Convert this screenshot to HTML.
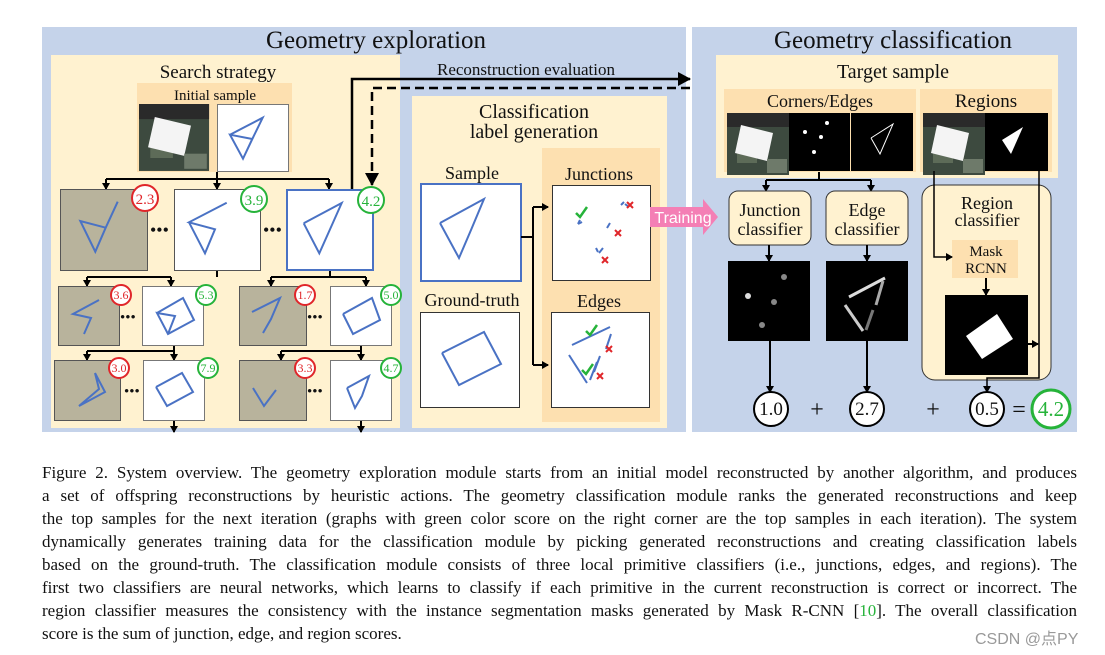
<!DOCTYPE html>
<html><head><meta charset="utf-8"><style>
html,body{margin:0;padding:0;background:#fff;width:1105px;height:655px;overflow:hidden}
svg{position:absolute;left:0;top:0}
svg text{font-family:"Liberation Serif",serif;fill:#111}
.cap{position:absolute;left:42px;width:1035px;font-family:"Liberation Serif",serif;font-size:17px;color:#111;white-space:nowrap;text-align:justify;text-align-last:justify}
.cap.l{text-align-last:left}
.wm{position:absolute;left:975px;top:625px;font-family:"Liberation Sans","Noto Sans CJK SC",sans-serif;font-size:16px;color:#999}
</style></head><body>
<svg width="1105" height="655" viewBox="0 0 1105 655">
<defs>
<marker id="ah" markerWidth="8" markerHeight="8" refX="6" refY="4" orient="auto" markerUnits="userSpaceOnUse"><path d="M0,0 L7,4 L0,8z" fill="#000"/></marker>
<marker id="ahb" markerWidth="14" markerHeight="14" refX="12" refY="7" orient="auto" markerUnits="userSpaceOnUse"><path d="M0,0 L13,7 L0,14z" fill="#000"/></marker>
<g id="sat"><rect width="62" height="62" fill="#3d4a3f"/><rect x="0" y="0" width="62" height="14" fill="#2a2a2a"/><rect x="10" y="30" width="20" height="20" fill="#5d6b58"/><polygon points="14,12 46,20 40,48 8,40" fill="#f4f4f4"/><rect x="40" y="46" width="20" height="14" fill="#6e7a6a"/></g>
</defs>
<rect x="42" y="27" width="644" height="405" fill="#c5d3ea"/>
<rect x="692" y="27" width="385" height="405" fill="#c5d3ea"/>
<rect x="51" y="55" width="349" height="373" fill="#fff2d0"/>
<rect x="412" y="96" width="255" height="332" fill="#fff2d0"/>
<rect x="542" y="148" width="118" height="274" fill="#fde0b0"/>
<rect x="716" y="55" width="342" height="123" fill="#fff2d0"/>
<rect x="724" y="89" width="192" height="83" fill="#fde0b0"/>
<rect x="920" y="89" width="132" height="83" fill="#fde0b0"/>
<rect x="137" y="83" width="155" height="89" fill="#fde0b0"/>

<text x="376" y="48" font-size="25" text-anchor="middle">Geometry exploration</text>
<text x="893" y="48" font-size="25" text-anchor="middle">Geometry classification</text>
<text x="218" y="78" font-size="19" text-anchor="middle">Search strategy</text>
<text x="215" y="100" font-size="15" text-anchor="middle">Initial sample</text>
<text x="526" y="75" font-size="17" text-anchor="middle">Reconstruction evaluation</text>
<text x="534" y="118" font-size="20" text-anchor="middle">Classification</text>
<text x="534" y="138" font-size="20" text-anchor="middle">label generation</text>
<text x="472" y="179" font-size="18" text-anchor="middle">Sample</text>
<text x="472" y="306" font-size="18" text-anchor="middle">Ground-truth</text>
<text x="599" y="180" font-size="18" text-anchor="middle">Junctions</text>
<text x="599" y="307" font-size="18" text-anchor="middle">Edges</text>
<text x="893" y="78" font-size="20" text-anchor="middle">Target sample</text>
<text x="820" y="107" font-size="18" text-anchor="middle">Corners/Edges</text>
<text x="986" y="107" font-size="19" text-anchor="middle">Regions</text>

<use href="#sat" transform="translate(139,104) scale(1.13,1.08)"/>
<rect x="217.5" y="104.5" width="71" height="67" fill="#fff" stroke="#777"/>
<g fill="none" stroke="#4a72c4" stroke-width="2"><polyline points="230,134.7 262.7,117.7 252.3,139 243,158.7 230,134.7 252.3,139"/></g>
<g stroke="#000" stroke-width="2" fill="none">
<path d="M217,172 V179 M106,179 H329"/>
<path d="M106,179 V189" marker-end="url(#ah)"/><path d="M217,179 V189" marker-end="url(#ah)"/><path d="M329,179 V189" marker-end="url(#ah)"/>
<path d="M217,270 V277 M87,277 H171"/><path d="M87,277 V286" marker-end="url(#ah)"/><path d="M171,277 V286" marker-end="url(#ah)"/>
<path d="M330,270 V277 M271,277 H366"/><path d="M271,277 V286" marker-end="url(#ah)"/><path d="M366,277 V286" marker-end="url(#ah)"/>
<path d="M174,345 V351 M87,351 H174"/><path d="M87,351 V360" marker-end="url(#ah)"/><path d="M174,351 V360" marker-end="url(#ah)"/>
<path d="M361,345 V351 M281,351 H361"/><path d="M281,351 V360" marker-end="url(#ah)"/><path d="M361,351 V360" marker-end="url(#ah)"/>
<path d="M174,420 V432" marker-end="url(#ah)"/><path d="M361,420 V432" marker-end="url(#ah)"/>
<path d="M352,189 V79 H690" stroke-width="2.5" marker-end="url(#ahb)"/>
<path d="M690,88 H372 V185" stroke-width="2.5" stroke-dasharray="9,5" marker-end="url(#ahb)"/>
</g>
<rect x="60.5" y="189.5" width="87" height="81" fill="#b8b39c" stroke="#555"/>
<rect x="174.5" y="189.5" width="86" height="81" fill="#fff" stroke="#555"/>
<rect x="287" y="190" width="86" height="80" fill="#fff" stroke="#4a72c4" stroke-width="2"/>
<g fill="none" stroke="#4a72c4" stroke-width="2">
<polyline points="117.7,201.7 105.7,227.7 95.3,251.7 80.3,221 105.7,227.7"/>
<polyline points="226.7,202.7 189,222.3 215,229.3 205,253.3 189,222.3"/>
<polyline points="303.7,223.3 341.7,203 329.7,230 319.3,253.3 303.7,223.3"/>
</g>
<rect x="58.5" y="286.5" width="61" height="59" fill="#b8b39c" stroke="#555"/>
<rect x="142.5" y="286.5" width="61" height="59" fill="#fff" stroke="#777"/>
<rect x="239.5" y="286.5" width="67" height="59" fill="#b8b39c" stroke="#555"/>
<rect x="330.5" y="286.5" width="61" height="59" fill="#fff" stroke="#777"/>
<rect x="54.5" y="360.5" width="66" height="60" fill="#b8b39c" stroke="#555"/>
<rect x="143.5" y="360.5" width="61" height="60" fill="#fff" stroke="#777"/>
<rect x="239.5" y="360.5" width="67" height="60" fill="#b8b39c" stroke="#555"/>
<rect x="330.5" y="360.5" width="61" height="60" fill="#fff" stroke="#777"/>
<g fill="none" stroke="#4a72c4" stroke-width="2">
<polyline points="99,300 73,314 91,318 84,334"/>
<polyline points="157,313 183,298 194,320 168,334 157,313 175,316 168,334"/>
<polyline points="252,312 280,298 271,319 263,333"/>
<polyline points="343,314 372,298 380,320 353,334 343,314 M372,298 353,334"/>
<polyline points="95,373 99,389 79,406 105,392 95,373"/>
<polyline points="156,387 182,373 193,392 167,406 156,387"/>
<polyline points="253,388 264,406 276,390 M264,406 290,394"/>
<polyline points="347,388 369,376 362,396 355,408 347,388 M369,376 378,398"/>
</g>
<g font-size="18" fill="#000"><text x="150" y="236">•••</text><text x="263" y="236">•••</text>
<text x="120" y="322" font-size="15">•••</text><text x="307" y="322" font-size="15">•••</text>
<text x="124" y="396" font-size="15">•••</text><text x="307" y="396" font-size="15">•••</text></g>
<g fill="#fff" stroke-width="2">
<circle cx="145" cy="198" r="13" stroke="#e0262a"/><circle cx="254" cy="199" r="13" stroke="#26b33a"/><circle cx="371" cy="200" r="13" stroke="#26b33a"/>
<circle cx="121" cy="295" r="10" stroke="#e0262a"/><circle cx="206" cy="295" r="10" stroke="#26b33a"/><circle cx="305" cy="295" r="10" stroke="#e0262a"/><circle cx="391" cy="295" r="10" stroke="#26b33a"/>
<circle cx="119" cy="368" r="10" stroke="#e0262a"/><circle cx="208" cy="368" r="10" stroke="#26b33a"/><circle cx="305" cy="368" r="10" stroke="#e0262a"/><circle cx="391" cy="368" r="10" stroke="#26b33a"/>
</g>
<g text-anchor="middle" font-size="15">
<text x="145" y="204" style="fill:#e0262a">2.3</text><text x="254" y="205" style="fill:#26b33a">3.9</text><text x="371" y="206" style="fill:#26b33a">4.2</text>
</g>
<g text-anchor="middle" font-size="12">
<text x="121" y="299" style="fill:#e0262a">3.6</text><text x="206" y="299" style="fill:#26b33a">5.3</text><text x="305" y="299" style="fill:#e0262a">1.7</text><text x="391" y="299" style="fill:#26b33a">5.0</text>
<text x="119" y="372" style="fill:#e0262a">3.0</text><text x="208" y="372" style="fill:#26b33a">7.9</text><text x="305" y="372" style="fill:#e0262a">3.3</text><text x="391" y="372" style="fill:#26b33a">4.7</text>
</g>

<rect x="421" y="184" width="100" height="97" fill="#fff" stroke="#4a72c4" stroke-width="2"/>
<rect x="420.5" y="312.5" width="99" height="95" fill="#fff" stroke="#333"/>
<rect x="552.5" y="185.5" width="98" height="95" fill="#fff" stroke="#333"/>
<rect x="551.5" y="312.5" width="98" height="95" fill="#fff" stroke="#333"/>
<g fill="none" stroke="#4a72c4" stroke-width="2">
<polyline points="440,223 484,199 471,230 459,258 440,223"/>
<polyline points="442,353 484,332 501,364 459,385 442,353"/>
<path d="M572,345 L610,327 M611,334 L606,349 M600,356 L594,372 M569,355 L587,383 M597,362 L590,380"/>
<path d="M580,220 l-2,4 M582,222 l-4,2 M621,205 l3,-3 M629,207 l-4,-3 M607,228 l3,-5 M596,248 l2,4 M603,248 l-4,5"/>
</g>
<g fill="none" stroke="#26b33a" stroke-width="2.5"><path d="M576,213 l4,4 l7,-10"/><path d="M586,331 l4,4 l7,-10"/><path d="M582,370 l4,4 l7,-10"/></g>
<g fill="none" stroke="#e0262a" stroke-width="2"><path d="M627,202 l6,6 M633,202 l-6,6 M615,230 l6,6 M621,230 l-6,6 M602,257 l6,6 M608,257 l-6,6 M606,346 l6,6 M612,346 l-6,6 M597,373 l6,6 M603,373 l-6,6"/></g>
<g stroke="#000" stroke-width="2" fill="none"><path d="M521,237 H533 M533,207 V365"/><path d="M533,207 H548" marker-end="url(#ah)"/><path d="M533,365 H548" marker-end="url(#ah)"/></g>
<polygon points="650,207 703,207 703,199 718,217 703,235 703,227 650,227" fill="#f47fb5"/>
<text x="683" y="223" font-size="16" text-anchor="middle" style="fill:#fff;font-family:'Liberation Sans',sans-serif">Training</text>

<use href="#sat" x="727" y="113"/>
<rect x="789" y="113" width="61" height="58" fill="#000"/>
<rect x="851" y="113" width="62" height="58" fill="#000"/>
<g fill="#fff"><circle cx="827" cy="123" r="2"/><circle cx="805" cy="132" r="2"/><circle cx="821" cy="137" r="2"/><circle cx="814" cy="152" r="2"/></g>
<polyline points="871,138 893,124 880,154 871,138" fill="none" stroke="#fff" stroke-width="1"/>
<use href="#sat" x="923" y="113"/>
<rect x="985" y="113" width="63" height="58" fill="#000"/>
<polygon points="1002,140 1023,127 1011,154" fill="#fff"/>
<g stroke="#000" stroke-width="2" fill="none">
<path d="M819,172 V180 M766,180 H871"/><path d="M766,180 V191" marker-end="url(#ah)"/><path d="M871,180 V191" marker-end="url(#ah)"/>
</g>
<rect x="729" y="191" width="82" height="54" rx="9" fill="#fff2d0" stroke="#333"/>
<rect x="826" y="191" width="82" height="54" rx="9" fill="#fff2d0" stroke="#333"/>
<rect x="922" y="185" width="129" height="195" rx="13" fill="#fff2d0" stroke="#333"/>
<text x="770" y="216" font-size="18" text-anchor="middle">Junction</text>
<text x="770" y="235" font-size="18" text-anchor="middle">classifier</text>
<text x="867" y="216" font-size="18" text-anchor="middle">Edge</text>
<text x="867" y="235" font-size="18" text-anchor="middle">classifier</text>
<text x="987" y="209" font-size="18" text-anchor="middle">Region</text>
<text x="987" y="226" font-size="18" text-anchor="middle">classifier</text>
<rect x="952" y="240" width="66" height="38" fill="#fde0b0"/>
<text x="986" y="256" font-size="15" text-anchor="middle">Mask</text>
<text x="986" y="273" font-size="15" text-anchor="middle">RCNN</text>
<rect x="728" y="261" width="82" height="80" fill="#000"/>
<rect x="826" y="261" width="82" height="80" fill="#000"/>
<rect x="945" y="295" width="83" height="80" fill="#000"/>
<g fill="#ddd"><circle cx="748" cy="296" r="3"/></g><g fill="#888"><circle cx="784" cy="277" r="3"/><circle cx="774" cy="302" r="3"/><circle cx="762" cy="325" r="3"/></g>
<path d="M849,297 L885,278" stroke="#ddd" stroke-width="3"/><path d="M883,281 L876,305" stroke="#aaa" stroke-width="3"/><path d="M845,305 L863,331" stroke="#ccc" stroke-width="3"/><path d="M873,310 L866,330" stroke="#777" stroke-width="3"/>
<polygon points="966,336 997,314 1013,339 982,359" fill="#fff"/>
<g stroke="#000" stroke-width="2" fill="none">
<path d="M769,245 V261" marker-end="url(#ah)"/><path d="M867,245 V261" marker-end="url(#ah)"/>
<path d="M934,171 V257 H952" stroke-width="1.5" marker-end="url(#ah)"/>
<path d="M986,278 V295" marker-end="url(#ah)"/>
<path d="M1028,344 H1038" marker-end="url(#ah)"/>
<path d="M1039,171 V378 H987 V392" stroke-width="1.5" marker-end="url(#ah)"/>
<path d="M770,341 V392" marker-end="url(#ah)"/><path d="M867,341 V392" marker-end="url(#ah)"/>
</g>
<g fill="#fff" stroke="#000" stroke-width="2"><circle cx="771" cy="409" r="17"/><circle cx="867" cy="409" r="17"/><circle cx="987" cy="409" r="17"/></g>
<circle cx="1051" cy="409" r="19" fill="#fff" stroke="#26b33a" stroke-width="3"/>
<g font-size="19" text-anchor="middle"><text x="771" y="415">1.0</text><text x="867" y="415">2.7</text><text x="987" y="415">0.5</text><text x="1051" y="416" font-size="21" style="fill:#26b33a">4.2</text>
<text x="817" y="417" font-size="24">+</text><text x="933" y="417" font-size="24">+</text><text x="1019" y="417" font-size="24">=</text></g>
</svg>
<div class="cap" style="top:463px">Figure 2. System overview. The geometry exploration module starts from an initial model reconstructed by another algorithm, and produces</div>
<div class="cap" style="top:486px">a set of offspring reconstructions by heuristic actions. The geometry classification module ranks the generated reconstructions and keep</div>
<div class="cap" style="top:509px">the top samples for the next iteration (graphs with green color score on the right corner are the top samples in each iteration). The system</div>
<div class="cap" style="top:532px">dynamically generates training data for the classification module by picking generated reconstructions and creating classification labels</div>
<div class="cap" style="top:555px">based on the ground-truth. The classification module consists of three local primitive classifiers (i.e., junctions, edges, and regions). The</div>
<div class="cap" style="top:578px">first two classifiers are neural networks, which learns to classify if each primitive in the current reconstruction is correct or incorrect. The</div>
<div class="cap" style="top:601px">region classifier measures the consistency with the instance segmentation masks generated by Mask R-CNN [<span style="color:#26b33a">10</span>]. The overall classification</div>
<div class="cap l" style="top:624px">score is the sum of junction, edge, and region scores.</div>
<div class="wm">CSDN @点PY</div>
</body></html>
